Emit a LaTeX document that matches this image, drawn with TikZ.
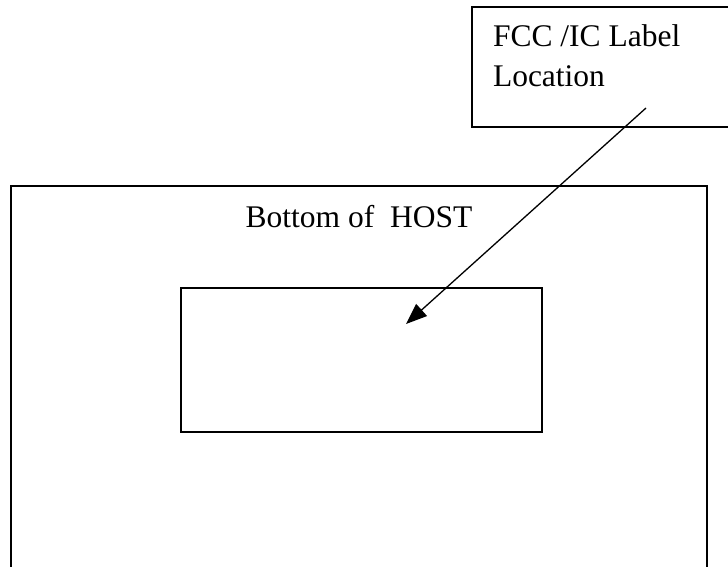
\documentclass[tikz,border=0pt]{standalone}
\usepackage{fontspec}
\setmainfont{Liberation Serif}
\usetikzlibrary{arrows.meta}
\begin{document}
\begin{tikzpicture}[x=1pt,y=-1pt,
  frame/.style={draw=black,line width=1.6pt,inner sep=0pt,outer sep=0pt},
  txt/.style={inner sep=0pt,outer sep=0pt,font=\fontsize{31.5pt}{40pt}\selectfont},
  pointer/.style={draw=black,line width=1.3pt,-{Triangle[length=21pt,width=16pt]}}]
\clip (0,0) rectangle (728,567);
\fill[white] (0,0) rectangle (728,567);
% label box (extends past the right edge)
\node[frame,minimum width=268pt,minimum height=120pt] (labelbox) at (606,67) {};
\node[txt,anchor=base west] (t1) at (493,47) {FCC /IC Label};
\node[txt,anchor=base west] (t2) at (493,87) {Location};
% host box (extends past the bottom edge)
\node[frame,minimum width=696pt,minimum height=420pt] (host) at (359,396) {};
\node[txt,anchor=base] (hosttext) at (359,227) {Bottom of~ HOST};
% label location rectangle
\node[frame,minimum width=361pt,minimum height=144pt] (spot) at (361.5,360) {};
% arrow
\coordinate (s) at (646,108);
\coordinate (e) at (406,324);
\draw[pointer] (s) -- (e);
\end{tikzpicture}
\end{document}
